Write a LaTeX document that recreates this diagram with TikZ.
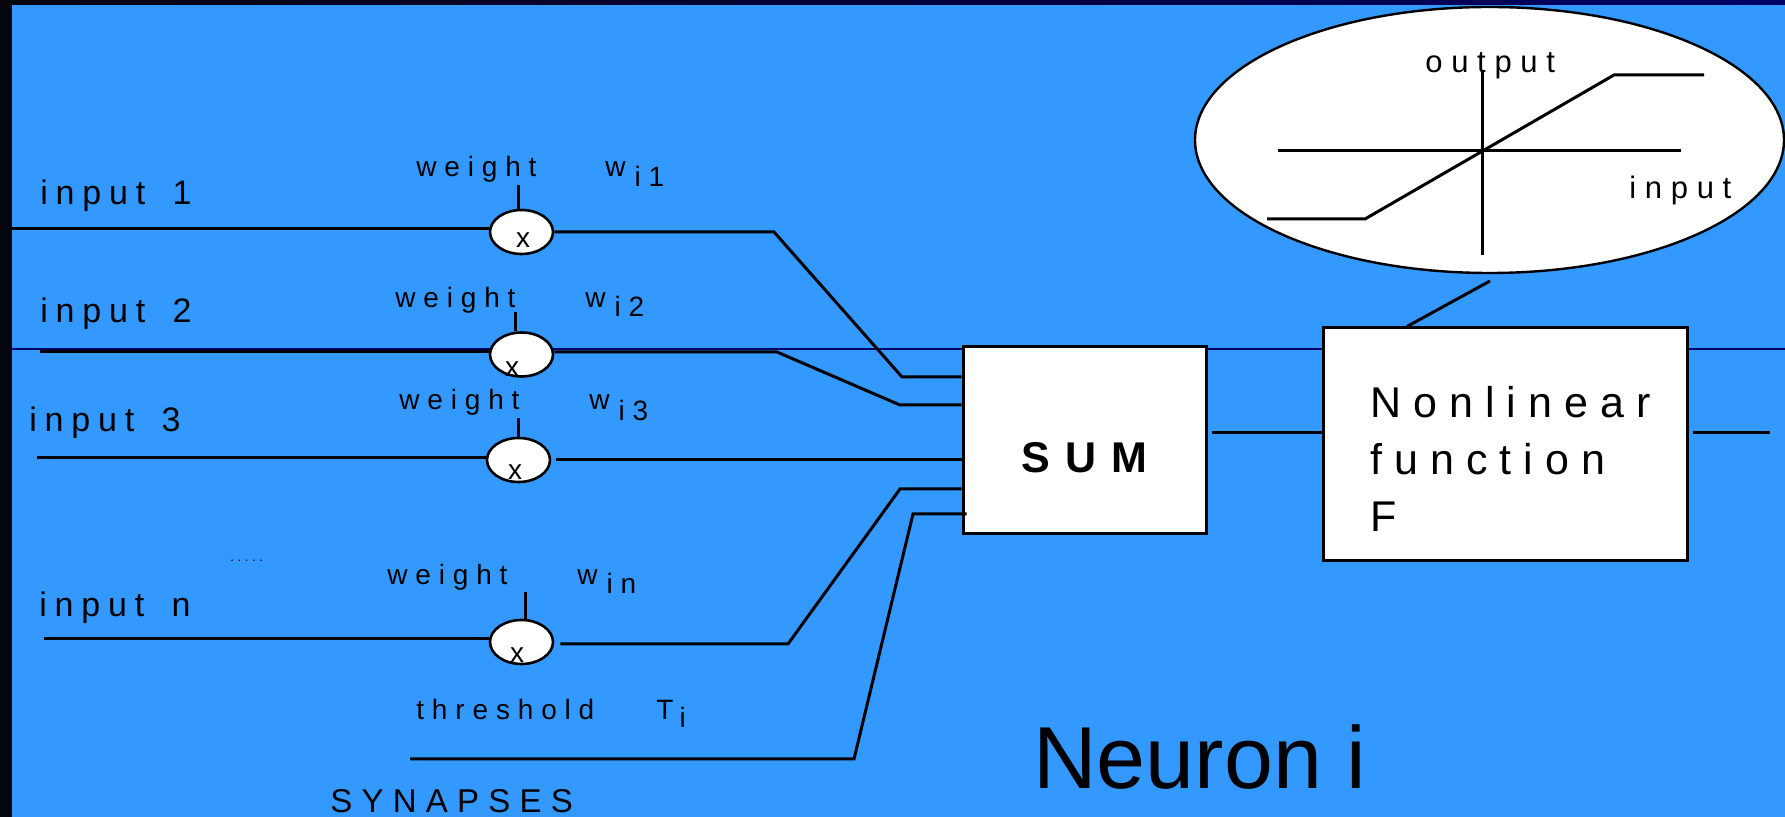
\documentclass[tikz,border=0pt]{standalone}
\usepackage{fontspec}
\setmainfont{Liberation Sans}
\newfontfamily\trk[LetterSpace=28]{Liberation Sans}
\newfontfamily\trkin[LetterSpace=23]{Liberation Sans}
\newfontfamily\trkwide[LetterSpace=36]{Liberation Sans}
\usetikzlibrary{shapes.geometric}
\definecolor{bg}{HTML}{3399FF}
\definecolor{navy}{HTML}{000066}
\definecolor{edge}{HTML}{05050F}
\tikzset{
  wire/.style={line width=1.5pt, line join=miter},
  mult/.style={ellipse, draw, fill=white, line width=1.3pt, inner sep=0pt, minimum width=31.5pt, minimum height=22pt},
  blk/.style={rectangle, draw, fill=white, line width=1.5pt, inner sep=0pt},
  txt/.style={inner sep=0pt, anchor=base west},
  inlbl/.style={txt, font=\trkin\fontsize{17}{20}\selectfont},
  wlbl/.style={txt, font=\trk\fontsize{14}{16}\selectfont},
  xlbl/.style={inner sep=0pt, anchor=base, font=\fontsize{14}{16}\selectfont},
  flbl/.style={txt, font=\trk\fontsize{21.5}{25}\selectfont},
  glbl/.style={txt, font=\trk\fontsize{15.5}{18}\selectfont},
}
\begin{document}
\begin{tikzpicture}[x=0.5pt,y=-0.5pt]
\useasboundingbox (0,0) rectangle (1785,817);
\fill[bg] (0,0) rectangle (1785,817);
\shade[left color=edge, right color=navy] (0,0) rectangle (1785,5);
\fill[edge] (0,0) rectangle (12,817);
\draw[navy, line width=0.6pt] (12,349) -- (1785,349);

% labels on the left
\node[inlbl] (tin1) at (40,205) {input\hspace{5pt} 1};
\node[inlbl] (tin2) at (40,323) {input\hspace{5pt} 2};
\node[inlbl] (tin3) at (29,432) {input\hspace{5pt} 3};
\node[inlbl] (tinn) at (39,617) {input\hspace{5pt} n};
\node[txt, font=\trk\fontsize{6.5}{8}\selectfont] (dots) at (230,562) {.....};

\node[wlbl] (wt1) at (416,177) {weight};
\node[wlbl] (w1) at (605,177) {w\hspace{4.5pt}\raisebox{-5pt}{i1}};
\node[wlbl] (wt2) at (395,308) {weight};
\node[wlbl] (w2) at (585,308) {w\hspace{4.5pt}\raisebox{-4.5pt}{i2}};
\node[wlbl] (wt3) at (399,410) {weight};
\node[wlbl] (w3) at (589,410) {w\hspace{4.5pt}\raisebox{-5.5pt}{i3}};
\node[wlbl] (wtn) at (387,585) {weight};
\node[wlbl] (wn) at (577,585) {w\hspace{4.5pt}\raisebox{-4.5pt}{in}};
\node[wlbl] (tth) at (416,720) {threshold};
\node[wlbl] (tT) at (656,720) {T\hspace{3pt}\raisebox{-4pt}{i}};
\node[txt, font=\trk\fontsize{16.5}{20}\selectfont] (syn) at (330,813) {SYNAPSES};
\node[txt, font=\fontsize{44}{50}\selectfont] (neu) at (1033,789) {Neuron i};

% input wires
\coordinate (a1) at (12,229);
\coordinate (a2) at (40,352);
\coordinate (a3) at (37,458);
\coordinate (an) at (44,639);

% multipliers
\node[mult] (c1) at (521.5,232) {};
\node[mult] (c2) at (521.5,354.5) {};
\node[mult] (c3) at (518.5,460) {};
\node[mult] (cn) at (521.5,642) {};
\node[xlbl] (x1) at (523,248) {x};
\node[xlbl] (x2) at (512,377) {x};
\node[xlbl] (x3) at (515,480) {x};
\node[xlbl] (xn) at (517,663) {x};

\draw[wire] (a1) -- (a1 -| c1.west);
\draw[wire] (a2) -- (a2 -| c2.west);
\draw[wire] (a3) -- (a3 -| c3.west);
\draw[wire] (an) -- (an -| cn.west);

% weight ticks
\coordinate (t1) at (518.5,185);
\coordinate (t2) at (515,312);
\coordinate (t3) at (518,418);
\coordinate (tn) at (525,592);
\draw[wire] (t1) -- (t1 |- c1.north);
\draw[wire] (t2) -- (t2 |- c2.north);
\draw[wire] (t3) -- (t3 |- c3.north);
\draw[wire] (tn) -- (tn |- cn.north);

% blocks
\node[blk, minimum width=121.5pt, minimum height=93.5pt, text height=32.5pt, text depth=0pt,
      font=\trkwide\bfseries\fontsize{21.5}{25}\selectfont] (sum) at (1084.5,440.5) {SUM};
\node[blk, minimum width=182pt, minimum height=116.5pt] (nf) at (1505,444.5) {};
\node[flbl] (nf1) at (1370,418) {Nonlinear};
\node[flbl] (nf2) at (1370,475) {function};
\node[flbl] (nf3) at (1370,532) {F};

% wires into SUM
\coordinate (b1) at (774,232);  \coordinate (k1) at (902,377);
\coordinate (b2) at (777,352);  \coordinate (k2) at (900,405);
\coordinate (b3) at (556,460);
\coordinate (bn) at (788,644);  \coordinate (kn) at (900,489);
\coordinate (th0) at (410,759); \coordinate (th1) at (854,759); \coordinate (th2) at (913,514);
\draw[wire] (c1.east |- b1) -- (b1) -- (k1) -- (k1 -| sum.west);
\draw[wire] (c2.east |- b2) -- (b2) -- (k2) -- (k2 -| sum.west);
\draw[wire] (b3) -- (b3 -| sum.west);
\draw[wire] ([xshift=3pt]cn.east |- bn) -- (bn) -- (kn) -- (kn -| sum.west);
\draw[wire] (th0) -- (th1) -- (th2) -- ([xshift=2.5pt]th2 -| sum.west);

% SUM -> F -> out
\coordinate (m) at (1212,433);
\draw[wire] (m) -- (m -| nf.west);
\coordinate (out) at (1770,433);
\draw[wire] ([xshift=2pt]out -| nf.east) -- (out);

% transfer function bubble
\node[ellipse, draw, fill=white, line width=1.2pt, inner sep=0pt, minimum width=294.5pt, minimum height=133pt] (ell) at (1489.5,140) {};
\node[glbl] (gout) at (1425,73) {output};
\node[glbl] (gin) at (1629,199) {input};
\draw[wire] (1278,151) -- (1681,151);
\draw[wire] (1482,72) -- (1482,255);
\draw[wire] (1267,219) -- (1365,219) -- (1614,75) -- (1704,75);
\coordinate (ec) at (1490,281);
\coordinate (nfc) at (1407,0);
\draw[wire] (ec) -- (nfc |- nf.north);
\end{tikzpicture}
\end{document}
